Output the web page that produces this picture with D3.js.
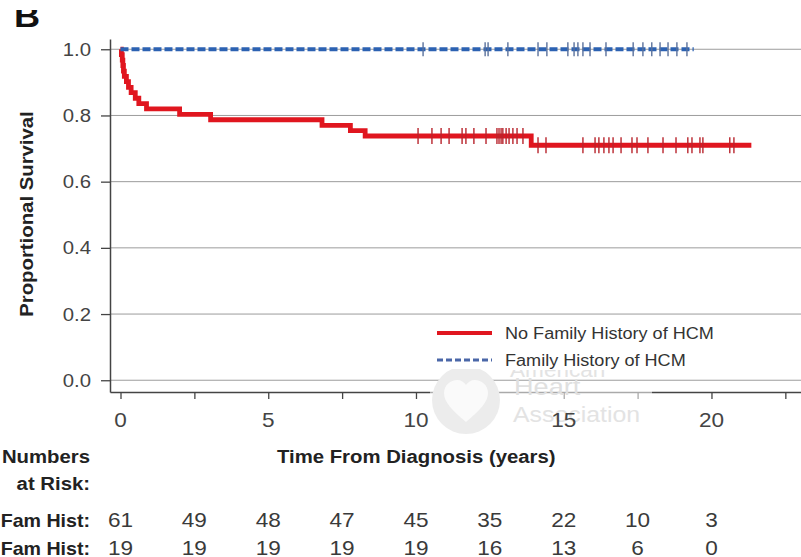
<!DOCTYPE html>
<html>
<head>
<meta charset="utf-8">
<script src="https://cdn.jsdelivr.net/npm/d3@7/dist/d3.min.js"></script>
<style>
  html, body { margin: 0; padding: 0; background: #fff; }
  svg { display: block; }
</style>
</head>
<body>
<svg id="chart" width="801" height="557"></svg>
<script>
// Kaplan-Meier survival by family history of HCM

const yTicks = [0, 0.2, 0.4, 0.6, 0.8, 1.0];
const xTicks = [0, 2.5, 5, 7.5, 10, 12.5, 15, 17.5, 20, 22.5];
const xLabels = [0, 5, 10, 15, 20];

const seriesNames = ["No Family History of HCM", "Family History of HCM"];

// No family history: step times (years) and survival after each step
const noFamStepTimes = [0, 0.03, 0.06, 0.08, 0.10, 0.13, 0.20, 0.27, 0.36, 0.50, 0.62, 0.88,
                        2.0, 3.05, 6.82, 7.78, 8.28, 13.9];
const noFamStepSurv  = [1.0, 0.984, 0.967, 0.951, 0.934, 0.918, 0.902, 0.885, 0.869, 0.852, 0.836, 0.820,
                        0.803, 0.787, 0.770, 0.754, 0.738, 0.710];
const noFamEnd = 21.35;
const noFamCensor = [10.07, 10.54, 10.85, 11.12, 11.56, 11.69, 11.96, 12.37, 12.74, 12.81, 12.88,
                     12.94, 13.05, 13.15, 13.28, 13.42, 13.62,
                     14.13, 14.40, 15.65, 16.06, 16.19, 16.36, 16.53, 16.67, 16.94, 17.31, 17.48,
                     17.85, 18.36, 18.80, 19.20, 19.34, 19.61, 19.71, 20.62, 20.76];

// Family history: no events
const famStepTimes = [0];
const famStepSurv  = [1.0];
const famEnd = 19.4;
const famCensor = [10.24, 12.34, 12.44, 13.11, 14.13, 14.43, 15.14, 15.35, 15.48, 15.65, 15.89,
                   16.43, 17.35, 17.68, 17.98, 18.26, 18.53, 18.83, 19.17];

// Numbers at risk
const riskTimes  = [0, 2.5, 5, 7.5, 10, 12.5, 15, 17.5, 20];
const riskNoFam  = [61, 49, 48, 47, 45, 35, 22, 10, 3];
const riskFam    = [19, 19, 19, 19, 19, 16, 13, 6, 0];
const riskRowLabels = ["No Fam Hist:", "Fam Hist:"];

const RED = "#e0161f";
const BLUE = "#2c62b2";
const FONT = "'Liberation Sans', Arial, Helvetica, sans-serif";
const SX = 1.13; // horizontal text stretch

const svg = d3.select("#chart");
svg.append("rect").attr("width", 801).attr("height", 557).attr("fill", "#fff");

const x = d3.scaleLinear().domain([-0.3553, 23.03]).range([110, 801]);
const y = d3.scaleLinear().domain([-0.0355, 1.031]).range([392, 39]);

function label(parent, px, py, s, o = {}) {
  const rot = o.rotate ? ` rotate(${o.rotate})` : "";
  return parent.append("text")
    .attr("transform", `translate(${px},${py})${rot} scale(${o.sx || SX},1)`)
    .attr("text-anchor", o.anchor || "start")
    .attr("font-family", FONT)
    .attr("font-size", o.size || 18)
    .attr("font-weight", o.weight || "normal")
    .attr("fill", o.fill || "#333")
    .text(s);
}

// panel letter
svg.append("clipPath").attr("id", "letterClip")
  .append("rect").attr("x", 0).attr("y", 10).attr("width", 80).attr("height", 30);
label(svg.append("g").attr("clip-path", "url(#letterClip)"), 14, 27, "B",
      { size: 32, weight: "bold", fill: "#111" });

// gridlines
svg.append("g").selectAll("line").data(yTicks).join("line")
  .attr("x1", 110).attr("x2", 801)
  .attr("y1", d => y(d)).attr("y2", d => y(d))
  .attr("stroke", "#9c9c9c").attr("stroke-width", 1);

// axes
const xAxis = svg.append("g").attr("transform", "translate(0,392)")
  .call(d3.axisBottom(x).tickValues(xTicks).tickSize(7).tickSizeOuter(0).tickFormat(""));
const yAxis = svg.append("g").attr("transform", "translate(110,0)")
  .call(d3.axisLeft(y).tickValues(yTicks).tickSize(9).tickSizeOuter(0).tickFormat(""));
[xAxis, yAxis].forEach(a => {
  a.select(".domain").attr("stroke", "#444").attr("stroke-width", 1.5);
  a.selectAll(".tick line").attr("stroke", "#444").attr("stroke-width", 1.3);
});

// faint society watermark (its upper line is hidden behind the legend box)
const wm = svg.append("g");
wm.append("rect").attr("x", 430).attr("y", 384).attr("width", 222).attr("height", 48)
  .attr("fill", "#fff").attr("opacity", 0.55);
wm.append("circle").attr("cx", 466).attr("cy", 400).attr("r", 34).attr("fill", "#ececec");
wm.append("path")
  .attr("d", "M466,422 C452,410 444,402 444,393 C444,385 451,380 457,380 C461,380 464,382 466,385 C468,382 471,380 475,380 C481,380 488,385 488,393 C488,402 480,410 466,422 Z")
  .attr("fill", "#fafafa");
svg.append("clipPath").attr("id", "wmClip")
  .append("rect").attr("x", 500).attr("y", 370).attr("width", 160).attr("height", 8);
label(wm.append("g").attr("clip-path", "url(#wmClip)"), 510, 377, "American", { size: 20, fill: "#e3e3e3" });
label(wm, 514, 395, "Heart", { size: 24, fill: "#e0e0e0" });
label(wm, 513, 422, "Association", { size: 22, fill: "#e3e3e3" });

// survival curves
const stepLine = d3.line().x(d => x(d[0])).y(d => y(d[1])).curve(d3.curveStepAfter);
function curvePoints(times, surv, end) {
  const pts = times.map((t, i) => [t, surv[i]]);
  pts.push([end, surv[surv.length - 1]]);
  return pts;
}
function survAt(times, surv, t) {
  return surv[Math.max(0, d3.bisectRight(times, t) - 1)];
}

svg.append("path").datum(curvePoints(noFamStepTimes, noFamStepSurv, noFamEnd))
  .attr("d", stepLine).attr("fill", "none").attr("stroke", RED).attr("stroke-width", 4.8);
svg.append("path").datum(curvePoints(famStepTimes, famStepSurv, famEnd))
  .attr("d", stepLine).attr("fill", "none").attr("stroke", BLUE).attr("stroke-width", 4)
  .attr("stroke-dasharray", "8,3");

// censor marks
svg.append("g").selectAll("line").data(noFamCensor).join("line")
  .attr("x1", d => x(d)).attr("x2", d => x(d))
  .attr("y1", d => y(survAt(noFamStepTimes, noFamStepSurv, d)) - 8)
  .attr("y2", d => y(survAt(noFamStepTimes, noFamStepSurv, d)) + 8)
  .attr("stroke", "#b8242c").attr("stroke-width", 1.4);
svg.append("g").selectAll("line").data(famCensor).join("line")
  .attr("x1", d => x(d)).attr("x2", d => x(d))
  .attr("y1", d => y(survAt(famStepTimes, famStepSurv, d)) - 7)
  .attr("y2", d => y(survAt(famStepTimes, famStepSurv, d)) + 7)
  .attr("stroke", "#5a719c").attr("stroke-width", 1.4);

// legend
const lg = svg.append("g");
lg.append("rect").attr("x", 428).attr("y", 318).attr("width", 300).attr("height", 51).attr("fill", "#fff");
lg.append("line").attr("x1", 437).attr("x2", 492).attr("y1", 333).attr("y2", 333)
  .attr("stroke", RED).attr("stroke-width", 4);
lg.append("line").attr("x1", 437).attr("x2", 492).attr("y1", 360).attr("y2", 360)
  .attr("stroke", "#4a67a8").attr("stroke-width", 3).attr("stroke-dasharray", "6,3");
label(lg, 505, 339, seriesNames[0], { size: 16, fill: "#333" });
label(lg, 505, 366, seriesNames[1], { size: 16, fill: "#333" });

// tick labels
yTicks.forEach(v => label(svg, 91, y(v) + 6.5, d3.format(".1f")(v), { size: 18, anchor: "end", fill: "#444" }));
xLabels.forEach(v => label(svg, x(v), 427, String(v), { size: 20, anchor: "middle", fill: "#444" }));

// axis titles
label(svg, 33, 214, "Proportional Survival", { size: 18, weight: "bold", anchor: "middle", rotate: -90, fill: "#222" });
label(svg, 277, 463, "Time From Diagnosis (years)", { size: 18, weight: "bold", fill: "#222" });

// numbers at risk
label(svg, 90, 463, "Numbers", { size: 18, weight: "bold", anchor: "end", fill: "#222" });
label(svg, 90, 490, "at Risk:", { size: 18, weight: "bold", anchor: "end", fill: "#222" });
[riskNoFam, riskFam].forEach((row, r) => {
  const by = 527 + r * 28;
  label(svg, 90, by, riskRowLabels[r], { size: 18, weight: "bold", anchor: "end", fill: "#222", sx: 1.09 });
  row.forEach((n, i) => label(svg, x(riskTimes[i]), by, String(n), { size: 20, anchor: "middle", fill: "#3a3a3a" }));
});
</script>
</body>
</html>
